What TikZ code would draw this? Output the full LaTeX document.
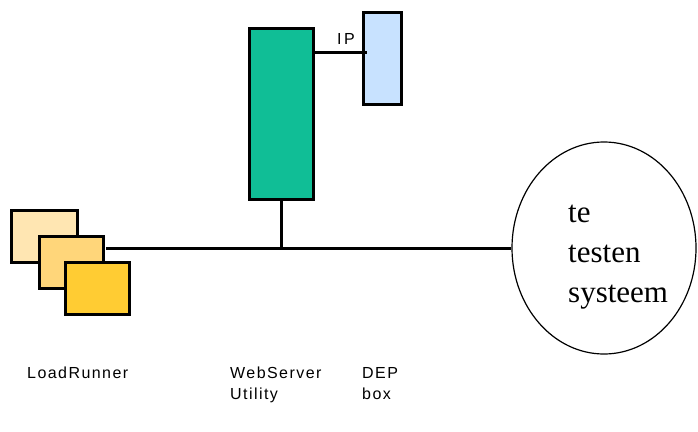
\documentclass[tikz,border=0pt]{standalone}
\usepackage{fontspec}
\setmainfont{Liberation Serif}
\setsansfont{Liberation Sans}
\usetikzlibrary{shapes.geometric,positioning}
\definecolor{loadlight}{RGB}{255,230,178}
\definecolor{loadmid}{RGB}{255,214,122}
\definecolor{loaddark}{RGB}{255,204,51}
\definecolor{webgreen}{RGB}{16,190,150}
\definecolor{depblue}{RGB}{200,226,255}

\begin{document}
\begin{tikzpicture}[x=1pt,y=-1pt,
    box/.style={draw=black, line width=2.5pt, inner sep=0pt, anchor=north west},
    wire/.style={line width=3pt, black},
    lbl/.style={font=\sffamily\fontsize{16}{21}\selectfont\addfontfeatures{LetterSpace=9},
                anchor=base west, align=left, inner sep=0pt}]
    \useasboundingbox (0,0) rectangle (698,431);

    % load generators
    \node[box, fill=loadlight, minimum width=66pt, minimum height=52pt] (lr1) at (10,209) {};
    \node[box, fill=loadmid, minimum width=64pt, minimum height=52pt] (lr2) at (38,235) {};
    \node[box, fill=loaddark, minimum width=64pt, minimum height=52pt] (lr3) at (64,261) {};

    % web server and DEP box
    \node[box, fill=webgreen, minimum width=64pt, minimum height=171pt] (web) at (248,27) {};
    \node[box, fill=depblue, minimum width=38pt, minimum height=92pt] (dep) at (362,11) {};

    % system under test
    \node[draw, ellipse, line width=1.2pt, minimum width=184pt, minimum height=212pt] (sys) at (604,248) {};
    \node[font=\fontsize{31}{40}\selectfont, align=left, anchor=base west, inner sep=0pt]
        (systxt) at (568,302) {te\\testen\\systeem};

    % network
    \coordinate (bus) at (106,248);
    \coordinate (ipA) at (312,52);
    \coordinate (ipB) at (367,52);
    \draw[wire] (bus) -- (sys.west);
    \draw[wire] (web.south) -- (web.south |- sys.west);
    \draw[wire] (ipA) -- (ipB);
    \node[font=\sffamily\fontsize{16}{16}\selectfont\addfontfeatures{LetterSpace=15},
          anchor=base, inner sep=0pt] (ip) at (346,44) {IP};

    % labels
    \node[lbl] (lrname) at (27,378) {LoadRunner};
    \node[lbl] (webname) at (230,399) {WebServer\\Utility};
    \node[lbl] (depname) at (362,399) {DEP\\box};
\end{tikzpicture}
\end{document}
